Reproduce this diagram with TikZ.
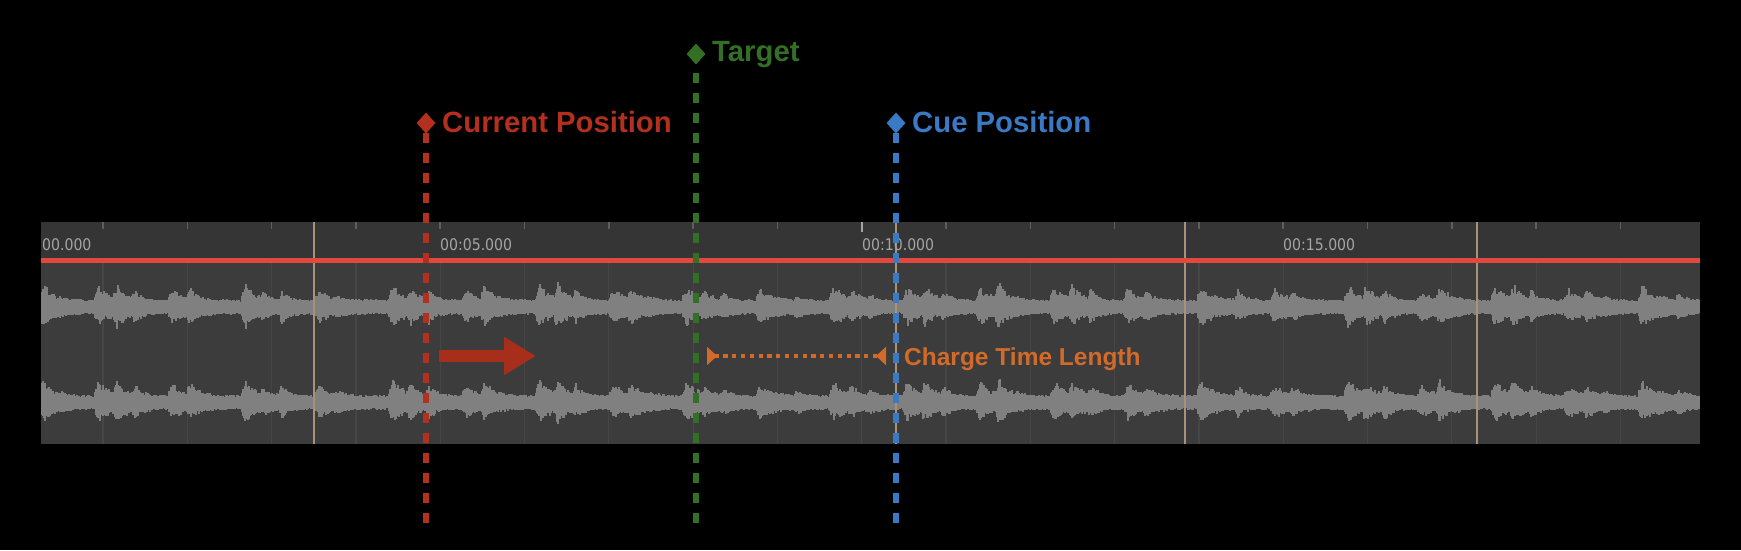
\documentclass[tikz,border=0pt]{standalone}
\usepackage{fontspec}
\setmainfont{Liberation Sans}
\newfontfamily\tickfont[FakeStretch=0.88]{DejaVu Sans}
\usetikzlibrary{arrows.meta,shapes.geometric}
\definecolor{cred}{HTML}{B3301E}
\definecolor{cgreen}{HTML}{336F24}
\definecolor{cblue}{HTML}{3A7AC4}
\definecolor{corange}{HTML}{D26A2A}
\definecolor{carrow}{HTML}{A82E1C}
\definecolor{hdrbg}{HTML}{353535}
\definecolor{bodybg}{HTML}{3C3C3C}
\definecolor{gridc}{HTML}{464646}
\definecolor{tickc}{HTML}{5E5E5E}
\definecolor{tanc}{HTML}{A8927A}
\definecolor{redline}{HTML}{E2493E}
\definecolor{wavec}{HTML}{808080}
\definecolor{labc}{HTML}{A4A4A4}
\begin{document}
\begin{tikzpicture}[x=1pt,y=-1pt,
  dia/.style={shape=diamond,inner sep=0pt,minimum width=19pt,minimum height=21pt,draw=none},
  lbl/.style={inner sep=0pt,anchor=base west,font=\bfseries\fontsize{29.3}{34}\selectfont},
  vdash/.style={line width=5.2pt,dash pattern=on 10pt off 10pt},
  ticklab/.style={inner sep=0pt,anchor=base west,text=labc,font=\tickfont\fontsize{16}{18}\selectfont},
  gridline/.style={draw=gridc,line width=1.2pt},
  tanline/.style={draw=tanc,line width=1.6pt},
  wave/.style={draw=wavec,line width=1.15pt}]
\useasboundingbox (0,0) rectangle (1741,550);
\fill[black] (0,0) rectangle (1741,550);
% panel
\fill[hdrbg] (41,222) rectangle (1700,260);
\fill[bodybg] (41,260) rectangle (1700,444);
% grid lines and ticks
\foreach \k in {0,...,18}{
  \draw[gridline] ({103+84.3*\k},263) -- ({103+84.3*\k},444);
  \draw[draw=tickc,line width=1.5pt] ({103+84.3*\k},222) -- ({103+84.3*\k},229);
}
\draw[draw=labc,line width=2pt] (862,222) -- (862,232);
% waveforms
\pgfmathsetseed{4242}
\begin{scope}
\clip (41,263) rectangle (1700,444);
\foreach \cy in {307,402.5}{
\draw[wave] \foreach \i [evaluate=\i as \ev using {(0.6+0.4*abs(sin(263.7*floor((\i+681)/73.5))))*exp(-mod(\i+681,73.5)/12)*min(1,(mod(\i+681,73.5)+1)/5)+0.85*(abs(sin(151.3*floor((\i+662)/73.5))))*exp(-mod(\i+662,73.5)/10)*min(1,(mod(\i+662,73.5)+1)/4)+0.6*(abs(sin(97.1*floor((\i+643)/73.5))))^2*exp(-mod(\i+643,73.5)/8)*min(1,(mod(\i+643,73.5)+1)/3)}] in {0,...,1658}{
  ({41+\i},{\cy-5.2-2.2*rnd-21*min(\ev,1.05)*(0.4+0.75*rnd)}) -- ({41+\i},{\cy+5.2+2.2*rnd+18*min(\ev,1.05)*(0.4+0.75*rnd)})
};
}
\end{scope}
% tan segment markers
\foreach \tx in {314,896,1185,1477}{
  \draw[tanline] (\tx,222) -- (\tx,444);
}
% red ruler line
\draw[draw=redline,line width=4.5pt] (41,260.5) -- (1700,260.5);
% tick labels
\begin{scope}
\clip (41,222) rectangle (1700,258);
\node[ticklab] (l0) at (42,250) {00.000};
\node[ticklab] (l5) at (440,250) {00:05.000};
\node[ticklab] (l10) at (862,250) {00:10.000};
\node[ticklab] (l15) at (1283,250) {00:15.000};
\end{scope}
% markers
\coordinate (curtop) at (426,133);
\coordinate (curbot) at (426,523);
\coordinate (tgttop) at (696,73);
\coordinate (tgtbot) at (696,523);
\coordinate (cuetop) at (896,133);
\coordinate (cuebot) at (896,523);
\draw[vdash,draw=cred] (curtop) -- (curbot);
\draw[vdash,draw=cgreen] (tgttop) -- (tgtbot);
\draw[vdash,draw=cblue] (cuetop) -- (cuebot);
\node[dia,fill=cred] (curd) at (426,123) {};
\node[dia,fill=cgreen] (tgtd) at (696,54) {};
\node[dia,fill=cblue] (cued) at (896,123) {};
\node[lbl,text=cred] (curl) at (442,132) {Current Position};
\node[lbl,text=cgreen] (tgtl) at (712,61.5) {Target};
\node[lbl,text=cblue] (cuel) at (912,132) {Cue Position};
% red arrow
\coordinate (ra1) at (439,356);
\coordinate (ra2) at (536,356);
\draw[draw=carrow,line width=12pt,-{Triangle[length=32pt,width=36pt]}] (ra1) -- (ra2);
% charge time length
\coordinate (o1) at (707,356);
\coordinate (o2) at (886,356);
\draw[draw=corange,line width=4pt,dash pattern=on 4.2pt off 4.6pt,{Triangle[reversed,length=10pt,width=18pt]}-{Triangle[reversed,length=10pt,width=18pt]}] (o1) -- (o2);
\node[inner sep=0pt,anchor=base west,text=corange,font=\bfseries\fontsize{24.5}{28}\selectfont] (ctl) at (904,365) {Charge Time Length};
\end{tikzpicture}
\end{document}
